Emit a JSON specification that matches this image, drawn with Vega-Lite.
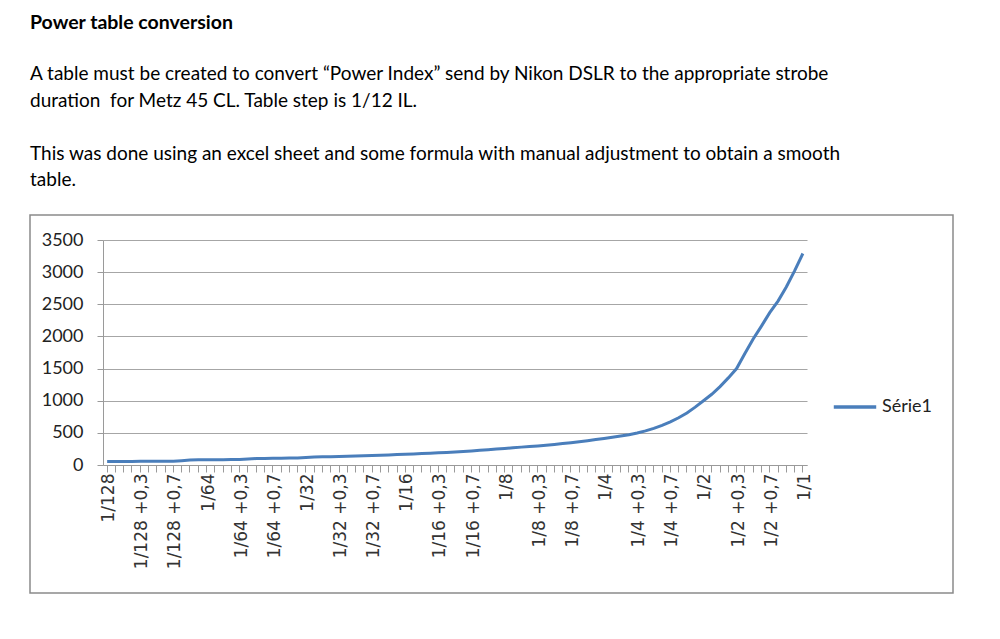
{
  "$schema": "https://vega.github.io/schema/vega-lite/v6.json",
  "autosize": {"type": "none"},
  "padding": {"left": 30, "top": 215, "right": 47, "bottom": 46},
  "width": 923,
  "height": 378,
  "background": "white",
  "title": {
    "text": "Power table conversion",
    "subtitle": [
      "A table must be created to convert “Power Index” send by Nikon DSLR to the appropriate strobe",
      "duration\u00a0 for Metz 45 CL. Table step is 1/12 IL.",
      "\u200b",
      "This was done using an excel sheet and some formula with manual adjustment to obtain a smooth",
      "table."
    ],
    "anchor": "start",
    "frame": "group",
    "offset": 24,
    "font": "Lato",
    "fontSize": 19.5,
    "fontWeight": "bold",
    "color": "#000000",
    "subtitleFont": "Lato",
    "subtitleFontSize": 19,
    "subtitleFontWeight": "normal",
    "subtitleColor": "#000000",
    "subtitleLineHeight": 26.5,
    "subtitlePadding": 32
  },
  "config": {
    "font": "Lato",
    "view": {"stroke": "#8a8a8a", "strokeWidth": 1.5, "fill": "white"}
  },
  "data": {
    "values": [
      {"power": "1/128", "duration": 55, "series": "Série1"},
      {"power": "1/128 +0,08", "duration": 55, "series": "Série1"},
      {"power": "1/128 +0,17", "duration": 56, "series": "Série1"},
      {"power": "1/128 +0,25", "duration": 56, "series": "Série1"},
      {"power": "1/128 +0,3", "duration": 57, "series": "Série1"},
      {"power": "1/128 +0,42", "duration": 57, "series": "Série1"},
      {"power": "1/128 +0,50", "duration": 58, "series": "Série1"},
      {"power": "1/128 +0,58", "duration": 58, "series": "Série1"},
      {"power": "1/128 +0,7", "duration": 59, "series": "Série1"},
      {"power": "1/128 +0,75", "duration": 68, "series": "Série1"},
      {"power": "1/128 +0,83", "duration": 78, "series": "Série1"},
      {"power": "1/128 +0,92", "duration": 80, "series": "Série1"},
      {"power": "1/64", "duration": 81, "series": "Série1"},
      {"power": "1/64 +0,08", "duration": 82, "series": "Série1"},
      {"power": "1/64 +0,17", "duration": 83, "series": "Série1"},
      {"power": "1/64 +0,25", "duration": 84, "series": "Série1"},
      {"power": "1/64 +0,3", "duration": 86, "series": "Série1"},
      {"power": "1/64 +0,42", "duration": 95, "series": "Série1"},
      {"power": "1/64 +0,50", "duration": 100, "series": "Série1"},
      {"power": "1/64 +0,58", "duration": 102, "series": "Série1"},
      {"power": "1/64 +0,7", "duration": 104, "series": "Série1"},
      {"power": "1/64 +0,75", "duration": 106, "series": "Série1"},
      {"power": "1/64 +0,83", "duration": 108, "series": "Série1"},
      {"power": "1/64 +0,92", "duration": 110, "series": "Série1"},
      {"power": "1/32", "duration": 118, "series": "Série1"},
      {"power": "1/32 +0,08", "duration": 124, "series": "Série1"},
      {"power": "1/32 +0,17", "duration": 127, "series": "Série1"},
      {"power": "1/32 +0,25", "duration": 130, "series": "Série1"},
      {"power": "1/32 +0,3", "duration": 133, "series": "Série1"},
      {"power": "1/32 +0,42", "duration": 136, "series": "Série1"},
      {"power": "1/32 +0,50", "duration": 140, "series": "Série1"},
      {"power": "1/32 +0,58", "duration": 144, "series": "Série1"},
      {"power": "1/32 +0,7", "duration": 148, "series": "Série1"},
      {"power": "1/32 +0,75", "duration": 152, "series": "Série1"},
      {"power": "1/32 +0,83", "duration": 157, "series": "Série1"},
      {"power": "1/32 +0,92", "duration": 162, "series": "Série1"},
      {"power": "1/16", "duration": 167, "series": "Série1"},
      {"power": "1/16 +0,08", "duration": 171, "series": "Série1"},
      {"power": "1/16 +0,17", "duration": 177, "series": "Série1"},
      {"power": "1/16 +0,25", "duration": 183, "series": "Série1"},
      {"power": "1/16 +0,3", "duration": 190, "series": "Série1"},
      {"power": "1/16 +0,42", "duration": 196, "series": "Série1"},
      {"power": "1/16 +0,50", "duration": 203, "series": "Série1"},
      {"power": "1/16 +0,58", "duration": 211, "series": "Série1"},
      {"power": "1/16 +0,7", "duration": 219, "series": "Série1"},
      {"power": "1/16 +0,75", "duration": 228, "series": "Série1"},
      {"power": "1/16 +0,83", "duration": 238, "series": "Série1"},
      {"power": "1/16 +0,92", "duration": 248, "series": "Série1"},
      {"power": "1/8", "duration": 258, "series": "Série1"},
      {"power": "1/8 +0,08", "duration": 268, "series": "Série1"},
      {"power": "1/8 +0,17", "duration": 278, "series": "Série1"},
      {"power": "1/8 +0,25", "duration": 287, "series": "Série1"},
      {"power": "1/8 +0,3", "duration": 297, "series": "Série1"},
      {"power": "1/8 +0,42", "duration": 308, "series": "Série1"},
      {"power": "1/8 +0,50", "duration": 320, "series": "Série1"},
      {"power": "1/8 +0,58", "duration": 333, "series": "Série1"},
      {"power": "1/8 +0,7", "duration": 347, "series": "Série1"},
      {"power": "1/8 +0,75", "duration": 362, "series": "Série1"},
      {"power": "1/8 +0,83", "duration": 378, "series": "Série1"},
      {"power": "1/8 +0,92", "duration": 395, "series": "Série1"},
      {"power": "1/4", "duration": 412, "series": "Série1"},
      {"power": "1/4 +0,08", "duration": 430, "series": "Série1"},
      {"power": "1/4 +0,17", "duration": 450, "series": "Série1"},
      {"power": "1/4 +0,25", "duration": 472, "series": "Série1"},
      {"power": "1/4 +0,3", "duration": 497, "series": "Série1"},
      {"power": "1/4 +0,42", "duration": 530, "series": "Série1"},
      {"power": "1/4 +0,50", "duration": 570, "series": "Série1"},
      {"power": "1/4 +0,58", "duration": 615, "series": "Série1"},
      {"power": "1/4 +0,7", "duration": 670, "series": "Série1"},
      {"power": "1/4 +0,75", "duration": 735, "series": "Série1"},
      {"power": "1/4 +0,83", "duration": 810, "series": "Série1"},
      {"power": "1/4 +0,92", "duration": 900, "series": "Série1"},
      {"power": "1/2", "duration": 1000, "series": "Série1"},
      {"power": "1/2 +0,08", "duration": 1100, "series": "Série1"},
      {"power": "1/2 +0,17", "duration": 1220, "series": "Série1"},
      {"power": "1/2 +0,25", "duration": 1355, "series": "Série1"},
      {"power": "1/2 +0,3", "duration": 1500, "series": "Série1"},
      {"power": "1/2 +0,42", "duration": 1735, "series": "Série1"},
      {"power": "1/2 +0,50", "duration": 1960, "series": "Série1"},
      {"power": "1/2 +0,58", "duration": 2160, "series": "Série1"},
      {"power": "1/2 +0,7", "duration": 2370, "series": "Série1"},
      {"power": "1/2 +0,75", "duration": 2550, "series": "Série1"},
      {"power": "1/2 +0,83", "duration": 2770, "series": "Série1"},
      {"power": "1/2 +0,92", "duration": 3020, "series": "Série1"},
      {"power": "1/1", "duration": 3290, "series": "Série1"}
    ]
  },
  "mark": {"type": "line", "strokeWidth": 3, "interpolate": "linear"},
  "encoding": {
    "x": {
      "field": "power",
      "type": "ordinal",
      "sort": null,
      "scale": {"type": "band", "range": [73, 777], "paddingInner": 0, "paddingOuter": 0},
      "axis": {
        "title": null,
        "offset": -128,
        "labelAngle": -90,
        "labelAlign": "right",
        "labelBaseline": "middle",
        "labelFont": "DejaVu Sans",
        "labelFontSize": 17,
        "labelColor": "#333333",
        "labelPadding": 1,
        "labelOffset": 2,
        "labelOverlap": false,
        "labelExpr": "indexof(datum.value, '+') >= 0 && length(datum.value) - indexof(datum.value, '+') == 5 ? '' : datum.value",
        "tickSize": 7,
        "tickColor": "#9a9a9a",
        "domainColor": "#9a9a9a",
        "grid": false
      }
    },
    "y": {
      "field": "duration",
      "type": "quantitative",
      "scale": {"domain": [0, 3500], "range": [250, 25], "nice": false, "zero": true},
      "axis": {
        "title": null,
        "offset": -73,
        "values": [0, 500, 1000, 1500, 2000, 2500, 3000, 3500],
        "format": "d",
        "labelFont": "Lato",
        "labelFontSize": 18,
        "labelColor": "#222222",
        "labelPadding": 14,
        "tickSize": 6,
        "tickColor": "#9a9a9a",
        "domainColor": "#9a9a9a",
        "grid": true,
        "gridColor": "#a6a6a6",
        "gridWidth": 1.2
      }
    },
    "color": {
      "field": "series",
      "type": "nominal",
      "scale": {"range": ["#4a7ebb"]},
      "legend": {
        "title": null,
        "orient": "none",
        "legendX": 802,
        "legendY": 169,
        "padding": 0,
        "symbolType": "stroke",
        "symbolSize": 1800,
        "symbolStrokeWidth": 3.5,
        "labelFont": "Lato",
        "labelFontSize": 18,
        "labelColor": "#222222"
      }
    }
  }
}
